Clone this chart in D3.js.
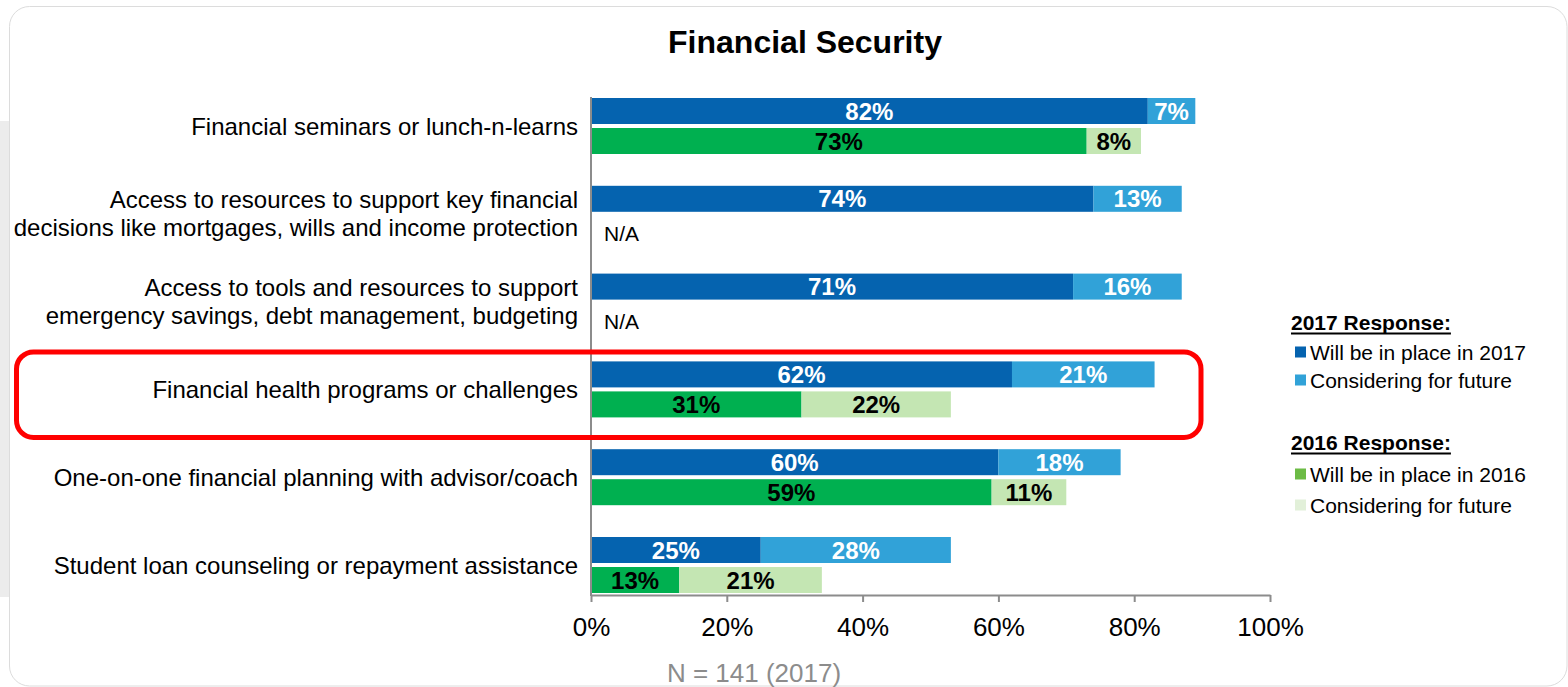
<!DOCTYPE html>
<html>
<head>
<meta charset="utf-8">
<script src="https://cdn.jsdelivr.net/npm/d3@7"></script>
<style>
  html, body { margin: 0; padding: 0; background: #fff; }
  svg { display: block; }
  .lbl, .tick text { font-family: "Liberation Sans", Arial, sans-serif; }
</style>
</head>
<body>
<svg id="chart" width="1568" height="687"></svg>
<script>
// Survey categories (top to bottom)
const categories = [
  ["Financial seminars or lunch-n-learns"],
  ["Access to resources to support key financial", "decisions like mortgages, wills and income protection"],
  ["Access to tools and resources to support", "emergency savings, debt management, budgeting"],
  ["Financial health programs or challenges"],
  ["One-on-one financial planning with advisor/coach"],
  ["Student loan counseling or repayment assistance"]
];
// 2017 responses (%)
const inPlace2017 = [82, 74, 71, 62, 60, 25];
const considering2017 = [7, 13, 16, 21, 18, 28];
// 2016 responses (%), null where not asked
const inPlace2016 = [73, null, null, 31, 59, 13];
const considering2016 = [8, null, null, 22, 11, 21];
const xTicks = [0, 20, 40, 60, 80, 100];
const highlighted = 3;

const colors = {
  dark2017: "#0563AF",
  light2017: "#31A2D8",
  dark2016: "#00B050",
  light2016: "#C4E6B3",
  legendDark2016: "#6CBB45",
  legendLight2016: "#E2F0D9"
};

const svg = d3.select("#chart");

// card background
svg.append("rect").attr("x", 0).attr("y", 121).attr("width", 10).attr("height", 476).attr("fill", "#ececec");
svg.append("rect").attr("x", 9.5).attr("y", 6.5).attr("width", 1557.5).attr("height", 679.5)
  .attr("rx", 20).attr("fill", "#fff").attr("stroke", "#dcdcdc").attr("stroke-width", 1);

const x = d3.scaleLinear().domain([0, 100]).range([591, 1270]);
const idx = categories.map((d, i) => i);
const y = d3.scalePoint().domain(idx).range([126, 565]);
const barH = 26, gap = 2;

// title
svg.append("text").attr("class", "lbl").attr("x", 805).attr("y", 53)
  .attr("text-anchor", "middle").attr("font-size", 32).attr("font-weight", "bold")
  .attr("fill", "#000").text("Financial Security");

// bars
function segments(a, b) {
  return idx.filter(i => a[i] != null).flatMap(i => [
    { i, x0: 0, v: a[i], which: 0 },
    { i, x0: a[i], v: b[i], which: 1 }
  ]);
}
const seg17 = segments(inPlace2017, considering2017);
const seg16 = segments(inPlace2016, considering2016);

const g = svg.append("g");
g.selectAll("rect.b17").data(seg17).join("rect")
  .attr("x", d => x(d.x0)).attr("y", d => y(d.i) - gap - barH)
  .attr("width", d => x(d.x0 + d.v) - x(d.x0)).attr("height", barH)
  .attr("fill", d => d.which ? colors.light2017 : colors.dark2017);
g.selectAll("rect.b16").data(seg16).join("rect")
  .attr("x", d => x(d.x0)).attr("y", d => y(d.i) + gap)
  .attr("width", d => x(d.x0 + d.v) - x(d.x0)).attr("height", barH)
  .attr("fill", d => d.which ? colors.light2016 : colors.dark2016);

// value labels
g.selectAll("text.v17").data(seg17).join("text").attr("class", "lbl")
  .attr("x", d => x(d.x0 + d.v / 2)).attr("y", d => y(d.i) - gap - barH / 2 + 8.5)
  .attr("text-anchor", "middle").attr("font-size", 24).attr("font-weight", "bold")
  .attr("fill", "#fff").text(d => d.v + "%");
g.selectAll("text.v16").data(seg16).join("text").attr("class", "lbl")
  .attr("x", d => x(d.x0 + d.v / 2)).attr("y", d => y(d.i) + gap + barH / 2 + 8.5)
  .attr("text-anchor", "middle").attr("font-size", 24).attr("font-weight", "bold")
  .attr("fill", "#000").text(d => d.v + "%");

// N/A where no 2016 data
g.selectAll("text.na").data(idx.filter(i => inPlace2016[i] == null)).join("text").attr("class", "lbl")
  .attr("x", 604).attr("y", d => y(d) + 27).attr("font-size", 21).attr("fill", "#000").text("N/A");

// category labels
const cat = svg.append("g").attr("class", "lbl").attr("font-size", 24).attr("fill", "#000");
categories.forEach((lines, i) => {
  const t = cat.append("text").attr("x", 578).attr("text-anchor", "end");
  lines.forEach((ln, k) => {
    const off = lines.length === 1 ? 8.5 : (k === 0 ? -6 : 22);
    t.append("tspan").attr("x", 578).attr("y", y(i) + off).text(ln);
  });
});

// axes
const xAxis = d3.axisBottom(x).tickValues(xTicks).tickFormat(d => d + "%").tickSize(7).tickSizeOuter(0);
const ax = svg.append("g").attr("transform", "translate(0,595)").call(xAxis);
ax.select(".domain").attr("stroke", "#8c8c8c").attr("stroke-width", 2);
ax.selectAll(".tick line").attr("stroke", "#8c8c8c").attr("stroke-width", 2);
ax.selectAll(".tick text").attr("font-size", 26).attr("fill", "#000").attr("dy", 0).attr("y", 41);
svg.append("line").attr("x1", x(0)).attr("x2", x(0)).attr("y1", 97).attr("y2", 596)
  .attr("stroke", "#8c8c8c").attr("stroke-width", 2);

// sample size note
svg.append("text").attr("class", "lbl").attr("x", 754).attr("y", 682).attr("text-anchor", "middle")
  .attr("font-size", 26).attr("fill", "#8c8c8c").text("N = 141 (2017)");

// highlight around one category
const hy = y(highlighted);
svg.append("rect").attr("x", 16.5).attr("y", hy - 37.5).attr("width", 1184.5).attr("height", 85.5)
  .attr("rx", 17).attr("fill", "none").attr("stroke", "#ff0000").attr("stroke-width", 5);

// legend
const legend = svg.append("g").attr("class", "lbl").attr("font-size", 21).attr("fill", "#000");
const groups = [
  { title: "2017 Response:", y: 329.5, items: [["Will be in place in 2017", colors.dark2017, 359.5], ["Considering for future", colors.light2017, 387.5]] },
  { title: "2016 Response:", y: 449.5, items: [["Will be in place in 2016", colors.legendDark2016, 481.5], ["Considering for future", colors.legendLight2016, 512.5]] }
];
groups.forEach(gr => {
  const t = legend.append("text").attr("x", 1291).attr("y", gr.y).attr("font-weight", "bold").text(gr.title);
  const w = t.node().getComputedTextLength();
  legend.append("rect").attr("x", 1291).attr("y", gr.y + 3).attr("width", w).attr("height", 2).attr("fill", "#000");
  gr.items.forEach(it => {
    legend.append("rect").attr("x", 1295).attr("y", it[2] - 13).attr("width", 11).attr("height", 11).attr("fill", it[1]);
    legend.append("text").attr("x", 1310).attr("y", it[2]).text(it[0]);
  });
});
</script>
</body>
</html>
